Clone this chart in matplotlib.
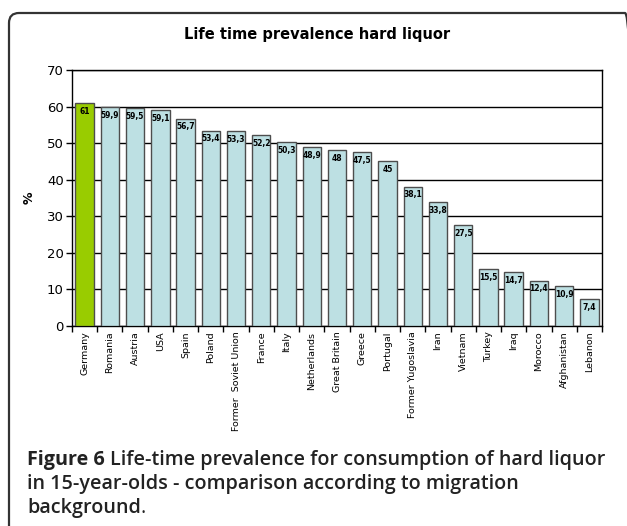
import matplotlib.pyplot as plt
from matplotlib.patches import FancyBboxPatch
from matplotlib.transforms import IdentityTransform
import numpy as np

countries = ['Germany', 'Romania', 'Austria', 'USA', 'Spain', 'Poland',
             'Former  Soviet Union', 'France', 'Italy', 'Netherlands',
             'Great Britain', 'Greece', 'Portugal', 'Former Yugoslavia',
             'Iran', 'Vietnam', 'Turkey', 'Iraq', 'Morocco', 'Afghanistan',
             'Lebanon']
prevalence = [61, 59.9, 59.5, 59.1, 56.7, 53.4, 53.3, 52.2, 50.3, 48.9,
              48, 47.5, 45, 38.1, 33.8, 27.5, 15.5, 14.7, 12.4, 10.9, 7.4]
yticks = [0, 10, 20, 30, 40, 50, 60, 70]

W, H = 627, 526
fig = plt.figure(figsize=(W / 100, H / 100), dpi=100)

# rounded frame around the whole figure, in pixels (runs off right/bottom)
frame = FancyBboxPatch((9, -30), 626, H - 13 + 30,
                       boxstyle='round,pad=0,rounding_size=10',
                       transform=IdentityTransform(), fill=False,
                       edgecolor='#333333', linewidth=1.6, clip_on=False)
fig.patches.append(frame)

ax = fig.add_axes([72 / W, 1 - 326 / H, (602 - 72) / W, (326 - 70) / H])
x = np.arange(len(countries))
colors = ['#99cc00'] + ['#bde0e3'] * (len(countries) - 1)
bars = ax.bar(x, prevalence, width=0.73, color=colors, edgecolor='#4d4d4d',
              linewidth=1.0, zorder=3)

for xi, v in zip(x, prevalence):
    lbl = ('%g' % v).replace('.', ',')
    ax.text(xi, v - 1.0, lbl, ha='center', va='top', fontsize=5.5,
            fontweight='bold', color='black', zorder=4)

ax.set_xlim(-0.5, len(countries) - 0.5)
ax.set_ylim(0, 70)
ax.set_yticks(yticks)
ax.set_yticklabels([str(t) for t in yticks], fontsize=9.5)
ax.yaxis.grid(True, color='black', linewidth=1.0, zorder=0)
ax.set_axisbelow(True)
ax.tick_params(axis='y', length=4, width=1, pad=2)

ax.set_xticks(x)
ax.set_xticklabels(countries, rotation=90, fontsize=6.8)
ax.tick_params(axis='x', which='major', length=0, pad=4)
ax.set_xticks(np.arange(-0.5, len(countries), 1), minor=True)
ax.tick_params(axis='x', which='minor', length=4, width=1)

for s in ax.spines.values():
    s.set_color('black')
    s.set_linewidth(1.0)

ax.set_ylabel('%', fontsize=9, fontweight='bold', labelpad=8)

fig.text(317 / W, 1 - 35 / H, 'Life time prevalence hard liquor',
         ha='center', va='center', fontsize=10.5, fontweight='bold',
         family='DejaVu Sans')

cap_font = 'Open Sans'
cap_size = 14.2
cap_col = '#222222'
y1 = 1 - 460 / H
t = fig.text(27 / W, y1, 'Figure 6', ha='left', va='center',
             fontsize=cap_size, fontweight='bold', family=cap_font,
             color=cap_col)
fig.canvas.draw()
bb = t.get_window_extent()
fig.text((bb.x1 + 5) / W, y1,
         'Life-time prevalence for consumption of hard liquor',
         ha='left', va='center', fontsize=cap_size, fontweight='semibold',
         family=cap_font, color=cap_col)
fig.text(27 / W, 1 - 484 / H,
         'in 15-year-olds - comparison according to migration',
         ha='left', va='center', fontsize=cap_size, fontweight='semibold',
         family=cap_font, color=cap_col)
t3 = fig.text(27 / W, 1 - 508 / H, 'background', ha='left', va='center',
              fontsize=cap_size, fontweight='semibold', family=cap_font,
              color=cap_col)
fig.canvas.draw()
bb3 = t3.get_window_extent()
fig.text(bb3.x1 / W, 1 - 508 / H, '.', ha='left', va='center',
         fontsize=cap_size, family=cap_font, color=cap_col)

fig.savefig('out.png', dpi=100)
